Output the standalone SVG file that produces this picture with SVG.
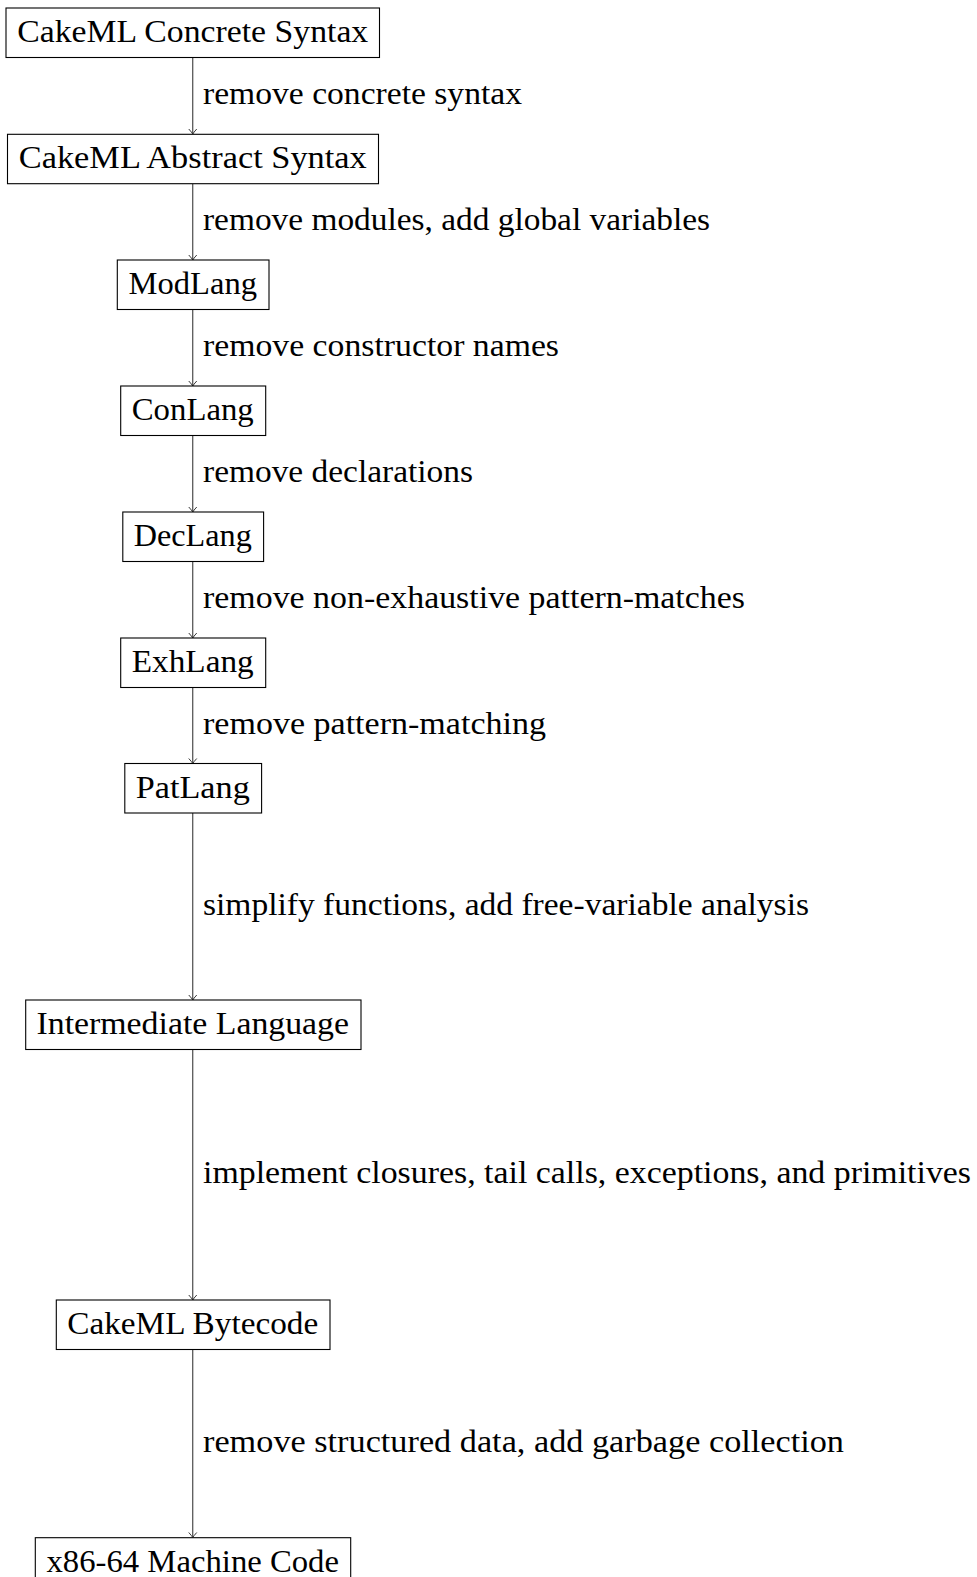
<svg xmlns="http://www.w3.org/2000/svg" width="977" height="1577" viewBox="0 0 977 1577">
  <style>
    .box rect { fill: #ffffff; stroke: #000000; stroke-width: 1.1; }
    .box text { font-family: "Liberation Serif", "Times New Roman", Times, serif; font-size: 31px; fill: #000000; text-anchor: middle; }
    .edge line { stroke: #3a3a3a; stroke-width: 1.1; fill: none; }
    .lbl { font-family: "Liberation Serif", "Times New Roman", Times, serif; font-size: 31px; fill: #000000; }
  </style>
  <defs>
    <marker id="tip" markerUnits="userSpaceOnUse" markerWidth="12" markerHeight="12" refX="0" refY="0" viewBox="-6 -6 12 12" orient="auto" overflow="visible">
      <path d="M -5,-4 Q -1.5,-0.8 0,0 Q -1.5,0.8 -5,4" fill="none" stroke="#3a3a3a" stroke-width="1"/>
    </marker>
  </defs>
  <rect width="977" height="1577" fill="#ffffff"/>

  <!-- connectors between the compiler stages -->
  <g id="connectors" class="edge">
    <line x1="192.75" y1="57.5" x2="192.75" y2="134" marker-end="url(#tip)"/>
    <line x1="192.75" y1="183.7" x2="192.75" y2="260" marker-end="url(#tip)"/>
    <line x1="192.75" y1="309.5" x2="192.75" y2="386" marker-end="url(#tip)"/>
    <line x1="192.75" y1="435.5" x2="192.75" y2="512" marker-end="url(#tip)"/>
    <line x1="192.75" y1="561.5" x2="192.75" y2="638" marker-end="url(#tip)"/>
    <line x1="192.75" y1="687.5" x2="192.75" y2="763.5" marker-end="url(#tip)"/>
    <line x1="192.75" y1="813" x2="192.75" y2="1000" marker-end="url(#tip)"/>
    <line x1="192.75" y1="1049.5" x2="192.75" y2="1300" marker-end="url(#tip)"/>
    <line x1="192.75" y1="1349.5" x2="192.75" y2="1537.5" marker-end="url(#tip)"/>
  </g>

  <!-- connector labels -->
  <g id="labels">
    <text class="lbl" x="203" y="103.9" textLength="319" lengthAdjust="spacingAndGlyphs">remove concrete syntax</text>
    <text class="lbl" x="203" y="229.8" textLength="507" lengthAdjust="spacingAndGlyphs">remove modules, add global variables</text>
    <text class="lbl" x="203" y="355.5" textLength="356" lengthAdjust="spacingAndGlyphs">remove constructor names</text>
    <text class="lbl" x="203" y="481.5" textLength="270" lengthAdjust="spacingAndGlyphs">remove declarations</text>
    <text class="lbl" x="203" y="607.5" textLength="542" lengthAdjust="spacingAndGlyphs">remove non-exhaustive pattern-matches</text>
    <text class="lbl" x="203" y="733.5" textLength="343" lengthAdjust="spacingAndGlyphs">remove pattern-matching</text>
    <text class="lbl" x="203" y="914.5" textLength="606" lengthAdjust="spacingAndGlyphs">simplify functions, add free-variable analysis</text>
    <text class="lbl" x="203" y="1182.5" textLength="768" lengthAdjust="spacingAndGlyphs">implement closures, tail calls, exceptions, and primitives</text>
    <text class="lbl" x="203" y="1451.5" textLength="641" lengthAdjust="spacingAndGlyphs">remove structured data, add garbage collection</text>
  </g>

  <!-- compiler stages -->
  <g id="concrete" class="box">
    <rect x="6" y="8" width="373.5" height="49.5"/>
    <text x="192.75" y="42.2" textLength="351" lengthAdjust="spacingAndGlyphs">CakeML Concrete Syntax</text>
  </g>
  <g id="abstract" class="box">
    <rect x="7.5" y="134.3" width="371" height="49.4"/>
    <text x="192.75" y="168.3" textLength="348" lengthAdjust="spacingAndGlyphs">CakeML Abstract Syntax</text>
  </g>
  <g id="modlang" class="box">
    <rect x="117.3" y="260" width="151.7" height="49.5"/>
    <text x="192.75" y="294" textLength="128.5" lengthAdjust="spacingAndGlyphs">ModLang</text>
  </g>
  <g id="conlang" class="box">
    <rect x="120.7" y="386" width="145" height="49.5"/>
    <text x="192.75" y="420" textLength="122" lengthAdjust="spacingAndGlyphs">ConLang</text>
  </g>
  <g id="declang" class="box">
    <rect x="122.8" y="512" width="140.8" height="49.5"/>
    <text x="192.75" y="546" textLength="118" lengthAdjust="spacingAndGlyphs">DecLang</text>
  </g>
  <g id="exhlang" class="box">
    <rect x="120.7" y="638" width="145" height="49.5"/>
    <text x="192.75" y="672" textLength="122" lengthAdjust="spacingAndGlyphs">ExhLang</text>
  </g>
  <g id="patlang" class="box">
    <rect x="124.8" y="763.5" width="136.8" height="49.5"/>
    <text x="192.75" y="797.5" textLength="114" lengthAdjust="spacingAndGlyphs">PatLang</text>
  </g>
  <g id="intermediate" class="box">
    <rect x="25.7" y="1000" width="335.3" height="49.5"/>
    <text x="192.75" y="1033.9" textLength="312.5" lengthAdjust="spacingAndGlyphs">Intermediate Language</text>
  </g>
  <g id="bytecode" class="box">
    <rect x="56.3" y="1300" width="273.7" height="49.5"/>
    <text x="192.75" y="1333.9" textLength="251" lengthAdjust="spacingAndGlyphs">CakeML Bytecode</text>
  </g>
  <g id="machine" class="box">
    <rect x="35.3" y="1537.7" width="315.4" height="49.5"/>
    <text x="192.75" y="1571.6" textLength="292.5" lengthAdjust="spacingAndGlyphs">x86-64 Machine Code</text>
  </g>
</svg>
